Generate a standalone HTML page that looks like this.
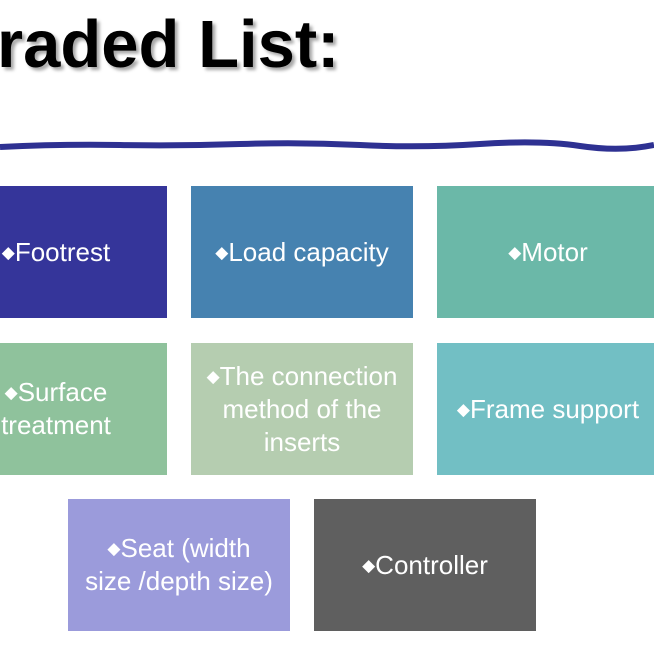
<!DOCTYPE html>
<html><head><style>
body{margin:0;width:654px;height:654px;background:#fff;position:relative;overflow:hidden;font-family:"Liberation Sans",sans-serif;}
.t{position:absolute;left:-3px;top:6px;font-size:67px;font-weight:bold;color:#000;text-shadow:3px 3px 3px rgba(0,0,0,0.35);white-space:nowrap;}
.b{position:absolute;width:222px;height:132px;display:flex;align-items:center;justify-content:center;text-align:center;color:#fff;font-size:26px;line-height:33px;}
.b i{font-style:normal;font-size:17px;vertical-align:3px;}
</style></head><body>
<div class="t">raded List:</div>
<svg style="position:absolute;left:0;top:130px" width="654" height="30">
<path d="M0 17 Q60 14 120 15 T240 14 T360 15 T480 14 T580 16 T654 15" stroke="#2e3192" stroke-width="6" fill="none"/>
</svg>
<div class="b" style="left:-55px;top:186px;background:#35359a"><span><i>◆</i>Footrest</span></div>
<div class="b" style="left:191px;top:186px;background:#4682b0"><span><i>◆</i>Load capacity</span></div>
<div class="b" style="left:437px;top:186px;background:#6bb8a8"><span><i>◆</i>Motor</span></div>
<div class="b" style="left:-55px;top:343px;background:#8fc29c"><span><i>◆</i>Surface<br>treatment</span></div>
<div class="b" style="left:191px;top:343px;background:#b5cdb0"><span><i>◆</i>The connection<br>method of the<br>inserts</span></div>
<div class="b" style="left:437px;top:343px;background:#72bfc4"><span><i>◆</i>Frame support</span></div>
<div class="b" style="left:68px;top:499px;background:#9b9bdb"><span><i>◆</i>Seat (width<br>size /depth size)</span></div>
<div class="b" style="left:314px;top:499px;background:#5f5f5f"><span><i>◆</i>Controller</span></div>
</body></html>
